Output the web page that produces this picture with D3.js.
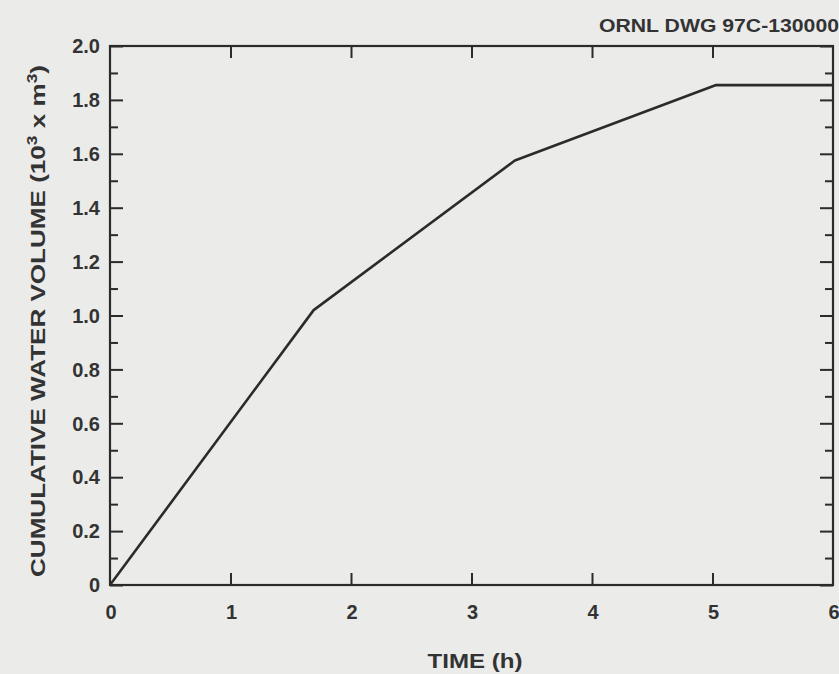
<!DOCTYPE html>
<html><head><meta charset="utf-8">
<script src="https://cdn.jsdelivr.net/npm/d3@7"></script>
<style>body{margin:0;background:#ebebea;}svg{display:block}</style>
</head><body>
<svg id="c" width="839" height="674"></svg>
<script>
const timeH = [0, 1.69, 3.36, 5.03, 6.0];
const volume = [0, 1.02, 1.575, 1.855, 1.855];
const xTicks = [0, 1, 2, 3, 4, 5, 6];
const yTicks = [0, 0.2, 0.4, 0.6, 0.8, 1.0, 1.2, 1.4, 1.6, 1.8, 2.0];
const yTickLabels = ["0", "0.2", "0.4", "0.6", "0.8", "1.0", "1.2", "1.4", "1.6", "1.8", "2.0"];
const yMinor = [0.1, 0.3, 0.5, 0.7, 0.9, 1.1, 1.3, 1.5, 1.7, 1.9];

(function () {
const svg = d3.select("#c");
const ink = "#2b2b2b";
const x = d3.scaleLinear().domain([0, 6]).range([110, 833]);
const y = d3.scaleLinear().domain([0, 2]).range([585, 46]);

svg.append("rect").attr("width", 839).attr("height", 674).attr("fill", "#ebebea");

const font = "'Liberation Sans', Arial, sans-serif";

// frame
svg.append("rect").attr("x", x(0)).attr("y", y(2)).attr("width", x(6) - x(0)).attr("height", y(0) - y(2))
  .attr("fill", "none").attr("stroke", ink).attr("stroke-width", 2.2);

function ticks(axisFn, pos, vals, size, horizontal) {
  const g = svg.append("g").attr("transform", horizontal ? `translate(0,${pos})` : `translate(${pos},0)`)
    .call(axisFn.tickValues(vals).tickSize(size).tickFormat(""));
  g.select(".domain").remove();
  g.selectAll("line").attr("stroke", ink).attr("stroke-width", 2);
}
ticks(d3.axisRight(y), x(0), yTicks, 13, false);
ticks(d3.axisRight(y), x(0), yMinor, 8, false);
ticks(d3.axisLeft(y), x(6), yTicks, 13, false);
ticks(d3.axisLeft(y), x(6), yMinor, 8, false);
ticks(d3.axisTop(x), y(0), xTicks.slice(1, -1), 12, true);
ticks(d3.axisBottom(x), y(2), xTicks.slice(1, -1), 12, true);

// y labels
svg.append("g").selectAll("text").data(yTicks).join("text")
  .attr("x", 100).attr("y", d => y(d)).attr("dy", "0.36em")
  .attr("text-anchor", "end").attr("font-family", font).attr("font-weight", "bold")
  .attr("font-size", 20).attr("fill", "#333")
  .text((d, i) => yTickLabels[i]);

// x labels
svg.append("g").selectAll("text").data(xTicks).join("text")
  .attr("x", d => x(d) + 1).attr("y", 619)
  .attr("text-anchor", "middle").attr("font-family", font).attr("font-weight", "bold")
  .attr("font-size", 20).attr("fill", "#333")
  .text(d => d);

// data line
svg.append("path").datum(timeH.map((t, i) => [t, volume[i]]))
  .attr("d", d3.line().x(d => x(d[0])).y(d => y(d[1])))
  .attr("fill", "none").attr("stroke", ink).attr("stroke-width", 2.6).attr("stroke-linejoin", "round");

// axis titles
svg.append("text").attr("x", 475).attr("y", 668).attr("text-anchor", "middle")
  .attr("font-family", font).attr("font-weight", "bold").attr("font-size", 20).attr("fill", "#333")
  .attr("textLength", 95).attr("lengthAdjust", "spacingAndGlyphs")
  .text("TIME (h)");

const yt = svg.append("text").attr("transform", "translate(45,321) rotate(-90)").attr("text-anchor", "middle")
  .attr("font-family", font).attr("font-weight", "bold").attr("font-size", 21).attr("fill", "#333")
  .attr("textLength", 512).attr("lengthAdjust", "spacingAndGlyphs");
yt.append("tspan").text("CUMULATIVE WATER VOLUME (10");
yt.append("tspan").attr("dy", -8).attr("font-size", 14).text("3");
yt.append("tspan").attr("dy", 8).text(" x m");
yt.append("tspan").attr("dy", -8).attr("font-size", 14).text("3");
yt.append("tspan").attr("dy", 8).text(")");

svg.append("text").attr("x", 839).attr("y", 32).attr("text-anchor", "end")
  .attr("font-family", font).attr("font-weight", "bold").attr("font-size", 19).attr("fill", "#333")
  .attr("textLength", 240).attr("lengthAdjust", "spacingAndGlyphs")
  .text("ORNL DWG 97C-130000");
})();
</script>
</body></html>
